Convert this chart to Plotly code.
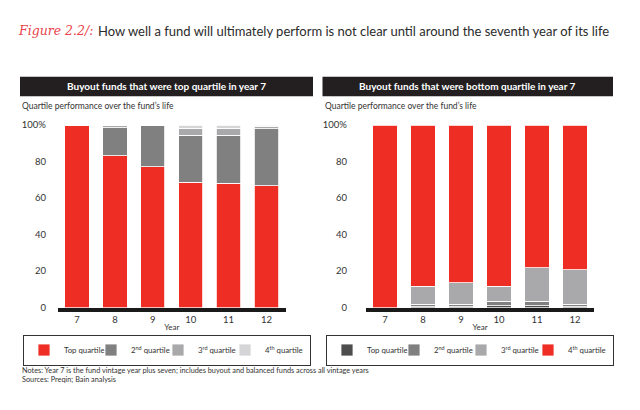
import plotly.graph_objects as go

years = ["7", "8", "9", "10", "11", "12"]
y_ticks = [0, 20, 40, 60, 80, 100]
y_tick_text = ["0", "20", "40", "60", "80", "100%"]

# Left panel: funds that were top quartile in year 7
left_top = [100, 83.1, 77.1, 68.7, 68.0, 66.8]
left_2nd = [0, 15.3, 22.9, 25.8, 26.5, 31.1]
left_3rd = [0, 1.6, 0, 3.7, 3.7, 1.3]
left_4th = [0, 0, 0, 1.8, 1.8, 0.8]

# Right panel: funds that were bottom quartile in year 7
right_top = [0, 0.5, 0.5, 1.0, 1.0, 0.5]
right_2nd = [0, 1.5, 1.5, 2.5, 2.5, 1.5]
right_3rd = [0, 9.6, 11.6, 8.1, 18.3, 18.9]
right_4th = [100, 88.4, 86.4, 88.4, 78.2, 79.1]

legend_names = ["Top quartile", "2<sup>nd</sup> quartile", "3<sup>rd</sup> quartile", "4<sup>th</sup> quartile"]

RED = "#EE2D24"
G2 = "#808080"
G3 = "#A9A9AB"
G4 = "#D5D5D7"
DARK = "#4D4D4D"
FONT = "Lato"
TXT = "#333333"

item_widths = [22, 22, 22, 40]

fig = go.Figure()

left_series = [left_top, left_2nd, left_3rd, left_4th]
left_colors = [RED, G2, G3, G4]
for name, vals, col, lw in zip(legend_names, left_series, left_colors, item_widths):
    fig.add_trace(go.Bar(x=years, y=vals, name=name, marker=dict(color=col, line=dict(color="white", width=0.8)),
                         width=0.64, xaxis="x", yaxis="y", legend="legend", legendwidth=lw))

right_series = [right_top, right_2nd, right_3rd, right_4th]
right_colors = [DARK, G2, G3, RED]
for name, vals, col, lw in zip(legend_names, right_series, right_colors, item_widths):
    fig.add_trace(go.Bar(x=years, y=vals, name=name, marker=dict(color=col, line=dict(color="white", width=0.8)),
                         width=0.64, xaxis="x2", yaxis="y2", legend="legend2", legendwidth=lw))

W, H = 640, 410
def px(x):
    return x / W
def py(y):
    return 1 - y / H

ydom = [py(310), py(122.3)]
axis_common_y = dict(range=[0, 100], tickvals=y_ticks, ticktext=y_tick_text, showgrid=False, zeroline=False,
                     showline=False, ticks="", tickfont=dict(family=FONT, size=9.5, color=TXT), fixedrange=True)
axis_common_x = dict(showgrid=False, zeroline=False, showline=True, linecolor="#1a1a1a", linewidth=4, ticks="",
                     tickfont=dict(family=FONT, size=9.5, color=TXT), range=[-0.5, 5.5], ticklabelstandoff=0,
                     title=dict(text="Year", font=dict(family=FONT, size=8, color=TXT), standoff=1))

legend_common = dict(orientation="h", bordercolor="#333333", borderwidth=1, bgcolor="white",
                     font=dict(family=FONT, size=7.8, color=TXT), traceorder="normal",
                     xanchor="center", yanchor="middle", itemwidth=30, tracegroupgap=0)

fig.update_layout(
    width=W, height=H,
    margin=dict(l=0, r=0, t=0, b=0),
    paper_bgcolor="white", plot_bgcolor="white",
    barmode="stack", bargap=0.36,
    showlegend=True,
    xaxis=dict(domain=[px(58), px(285.5)], anchor="y", **axis_common_x),
    yaxis=dict(domain=ydom, anchor="x", ticklabelstandoff=11, **axis_common_y),
    xaxis2=dict(domain=[px(366), px(594)], anchor="y2", **axis_common_x),
    yaxis2=dict(domain=ydom, anchor="x2", ticklabelstandoff=18, **axis_common_y),
    legend=dict(x=px(167), y=py(353.5), **legend_common),
    legend2=dict(x=px(470), y=py(353.5), **legend_common),
)

shapes = []
for x0, x1 in [(20, 313), (322.5, 613)]:
    shapes.append(dict(type="rect", xref="paper", yref="paper", x0=px(x0), x1=px(x1), y0=py(92.7), y1=py(72.7),
                       fillcolor="#231F20", line=dict(width=0), layer="below"))
fig.update_layout(shapes=shapes)

annotations = [
    dict(text="<i>Figure 2.2/:</i>", x=px(95), y=py(25.5), xanchor="right", yanchor="middle",
         font=dict(family="DejaVu Serif", size=12.5, color="#E8434A")),
    dict(text="How well a fund will ultimately perform is not clear until around the seventh year of its life",
         x=px(96), y=py(26), xanchor="left", yanchor="middle", font=dict(family=FONT, size=13, color="#2b2b2b")),
    dict(text="<b>Buyout funds that were top quartile in year 7</b>", x=px(166.5), y=py(82.7),
         xanchor="center", yanchor="middle", font=dict(family=FONT, size=10, color="white")),
    dict(text="<b>Buyout funds that were bottom quartile in year 7</b>", x=px(467.7), y=py(82.7),
         xanchor="center", yanchor="middle", font=dict(family=FONT, size=10, color="white")),
    dict(text="Quartile performance over the fund\u2019s life", x=px(20), y=py(102.5), xanchor="left", yanchor="middle",
         font=dict(family=FONT, size=8.5, color=TXT)),
    dict(text="Quartile performance over the fund\u2019s life", x=px(322.5), y=py(102.5), xanchor="left", yanchor="middle",
         font=dict(family=FONT, size=8.5, color=TXT)),
    dict(text="Notes: Year 7 is the fund vintage year plus seven; includes buyout and balanced funds across all vintage years",
         x=px(20), y=py(375), xanchor="left", yanchor="middle", font=dict(family=FONT, size=7.3, color=TXT)),
    dict(text="Sources: Preqin; Bain analysis", x=px(20), y=py(383.5), xanchor="left", yanchor="middle",
         font=dict(family=FONT, size=7.3, color=TXT)),
]
for a in annotations:
    a.update(xref="paper", yref="paper", showarrow=False)
fig.update_layout(annotations=annotations)

fig.write_html("out.html", config={"displayModeBar": False},
               post_script="document.body.style.margin='0';document.body.style.padding='0';")
